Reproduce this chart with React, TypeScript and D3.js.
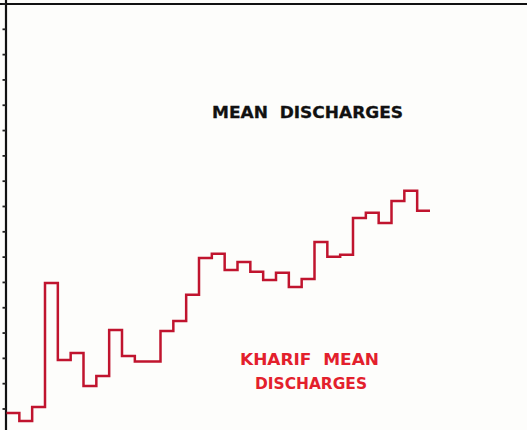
import React from "react";
import * as d3 from "d3";

const W = 527;
const H = 430;

// one step per season (year index), values in chart units (tick = 10)
const seasons: number[] = d3.range(1, 34);
const kharifMean: number[] = [
  8.4, 5.3, 10.8, 59.8, 29.4, 32.1, 19.1, 23.0, 41.2, 30.9, 28.8, 28.8,
  40.8, 44.8, 55.1, 69.7, 71.3, 64.9, 68.1, 64.2, 61.0, 63.8, 58.2, 61.4,
  76.0, 70.1, 70.9, 85.5, 87.5, 83.5, 92.2, 96.2, 88.3,
];
const yTicks: number[] = d3.range(10, 171, 10);
const titleText = "MEAN  DISCHARGES";
const labelLines = ["KHARIF  MEAN", "DISCHARGES"];

export default function App() {
  const x = d3.scaleLinear().domain([0, seasons.length]).range([6.5, 430]);
  const y = d3.scaleLinear().domain([0, 170]).range([434.3, 4]);

  const pts: [number, number][] = kharifMean.map((v, i) => [i, v]);
  pts.push([kharifMean.length, kharifMean[kharifMean.length - 1]]);

  const line = d3
    .line<[number, number]>()
    .x((d) => x(d[0]))
    .y((d) => y(d[1]))
    .curve(d3.curveStepAfter);

  const axisX = 6;

  return (
    <svg
      width={W}
      height={H}
      style={{ position: "absolute", left: 0, top: 0, background: "#fff" }}
    >
      <rect x={0} y={0} width={W} height={H} fill="#fdfdfb" />
      {/* frame */}
      <line x1={0} x2={W} y1={4} y2={4} stroke="#111" strokeWidth={2.2} />
      <line x1={axisX} x2={axisX} y1={0} y2={H} stroke="#111" strokeWidth={2.2} />
      {yTicks.map((t) => (
        <line
          key={t}
          x1={axisX - 3.5}
          x2={axisX}
          y1={y(t)}
          y2={y(t)}
          stroke="#222"
          strokeWidth={1.8}
        />
      ))}
      {/* step line */}
      <path
        d={line(pts) || ""}
        fill="none"
        stroke="#c0142e"
        strokeWidth={2.5}
        strokeLinejoin="miter"
      />
      {/* texts */}
      <text
        x={212}
        y={117.5}
        fontFamily="'DejaVu Sans', sans-serif"
        fontWeight="bold"
        fontSize={16}
        fill="#111"
        stroke="#111"
        strokeWidth={0.3}
        textLength={191}
        lengthAdjust="spacingAndGlyphs"
        style={{ whiteSpace: "pre" }}
      >
        {titleText}
      </text>
      <text
        x={240}
        y={364.5}
        fontFamily="'DejaVu Sans', sans-serif"
        fontWeight="bold"
        fontSize={15}
        fill="#e3202c"
        textLength={139}
        lengthAdjust="spacingAndGlyphs"
        style={{ whiteSpace: "pre" }}
      >
        {labelLines[0]}
      </text>
      <text
        x={255}
        y={388.5}
        fontFamily="'DejaVu Sans', sans-serif"
        fontWeight="bold"
        fontSize={15}
        fill="#e3202c"
        textLength={112}
        lengthAdjust="spacingAndGlyphs"
      >
        {labelLines[1]}
      </text>
    </svg>
  );
}
